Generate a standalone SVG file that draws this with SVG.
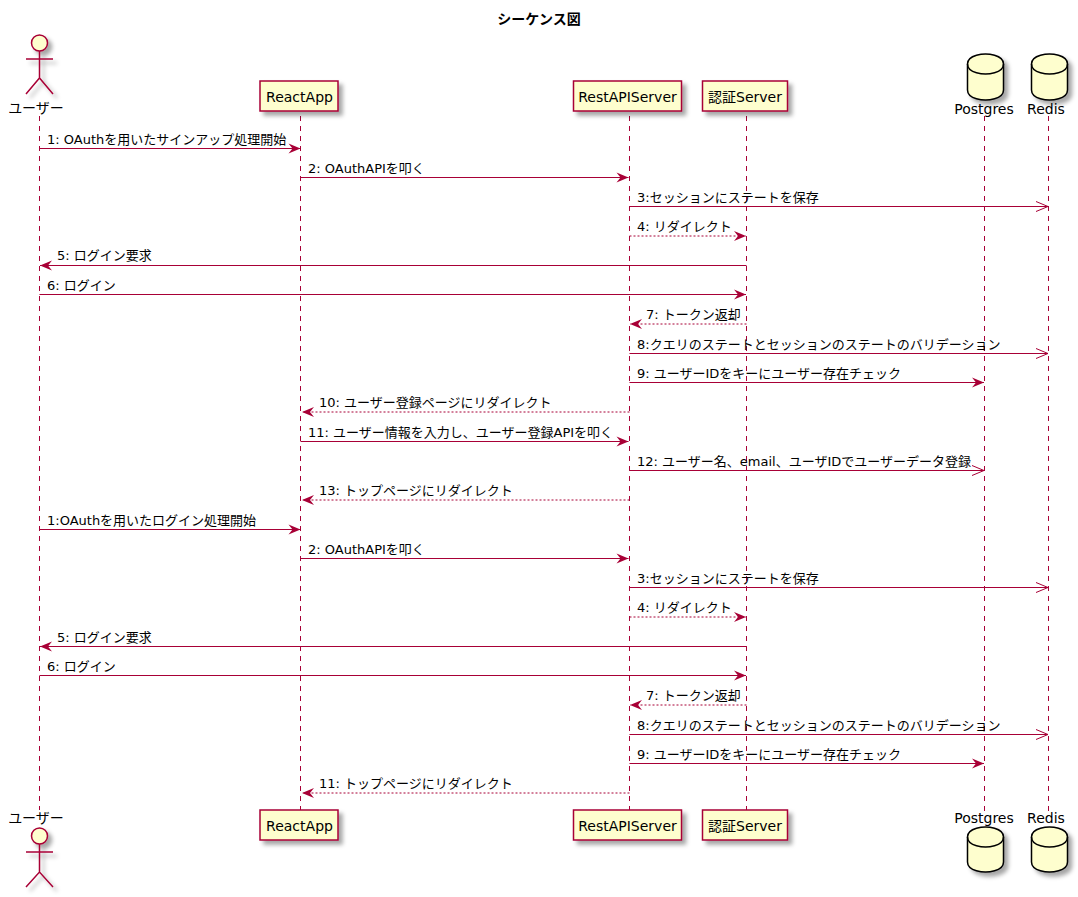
<svg xmlns="http://www.w3.org/2000/svg" width="1078" height="897" viewBox="0 0 1078 897">
<style>
text{font-family:"DejaVu Sans","Noto Sans CJK JP",sans-serif;fill:#000}
.t{font-size:14px;font-weight:700}
.n{font-size:14px}
.m{font-size:13px}
.mid{text-anchor:middle}
.life{stroke:#A80036;stroke-width:1;stroke-dasharray:5,5;fill:none}
.box{fill:#FEFECE;stroke:#A80036;stroke-width:1.5}
.act{fill:none;stroke:#A80036;stroke-width:1.5}
.head{fill:#FEFECE;stroke:#A80036;stroke-width:1.5}
.db{fill:#FEFECE;stroke:#000;stroke-width:1.5}
.dbl{fill:none;stroke:#000;stroke-width:1.5}
.a,.o,.d{stroke:#A80036;stroke-width:1;fill:none}
.a,.d{marker-end:url(#fa)}
.o{marker-end:url(#oa)}
.d{stroke-dasharray:2,2}
</style>
<defs>
<filter id="sh" x="-30%" y="-30%" width="170%" height="170%"><feDropShadow dx="4" dy="4" stdDeviation="2" flood-color="#000" flood-opacity="0.35"/></filter>
<marker id="fa" markerUnits="userSpaceOnUse" markerWidth="14" markerHeight="12" refX="12" refY="5" orient="auto" overflow="visible"><path d="M0,0L12,5L0,10L4,5Z" fill="#A80036"/></marker>
<marker id="oa" markerUnits="userSpaceOnUse" markerWidth="14" markerHeight="12" refX="12" refY="5" orient="auto" overflow="visible"><path d="M0,0L12,5L0,10" fill="none" stroke="#A80036"/></marker>
</defs>
<text id="title" class="t mid" x="539" y="24">シーケンス図</text>
<g id="user">
<line class="life" x1="39.5" y1="116" x2="39.5" y2="810"/>
<g filter="url(#sh)"><circle class="head" cx="39.5" cy="43" r="8"/><path class="act" d="M39.5,51V78M26,59H53M26,94L39.5,78L53,94"/></g>
<text class="n mid" x="36" y="113">ユーザー</text>
<text class="n mid" x="36" y="823">ユーザー</text>
<g filter="url(#sh)"><circle class="head" cx="39.5" cy="836" r="8"/><path class="act" d="M39.5,844V872M26,852H53M26,887L39.5,872L53,887"/></g>
</g>
<g id="reactapp">
<line class="life" x1="300.5" y1="116" x2="300.5" y2="810"/>
<rect class="box" filter="url(#sh)" x="260" y="81" width="78" height="30"/>
<text class="n mid" x="299.5" y="102">ReactApp</text>
<rect class="box" filter="url(#sh)" x="260" y="810" width="78" height="30"/>
<text class="n mid" x="299.5" y="831">ReactApp</text>
</g>
<g id="restapiserver">
<line class="life" x1="629.5" y1="116" x2="629.5" y2="810"/>
<rect class="box" filter="url(#sh)" x="573.5" y="81" width="108" height="30"/>
<text class="n mid" x="627.5" y="102">RestAPIServer</text>
<rect class="box" filter="url(#sh)" x="573.5" y="810" width="108" height="30"/>
<text class="n mid" x="627.5" y="831">RestAPIServer</text>
</g>
<g id="authserver">
<line class="life" x1="746.5" y1="116" x2="746.5" y2="810"/>
<rect class="box" filter="url(#sh)" x="702.5" y="81" width="85" height="30"/>
<text class="n mid" x="745" y="102">認証Server</text>
<rect class="box" filter="url(#sh)" x="702.5" y="810" width="85" height="30"/>
<text class="n mid" x="745" y="831">認証Server</text>
</g>
<g id="postgres">
<line class="life" x1="984.5" y1="116" x2="984.5" y2="812"/>
<g filter="url(#sh)"><path class="db" d="M967.5,64C967.5,54 985.5,54 985.5,54C985.5,54 1003.5,54 1003.5,64V90C1003.5,100 985.5,100 985.5,100C985.5,100 967.5,100 967.5,90Z"/><path class="dbl" d="M967.5,64C967.5,74 985.5,74 985.5,74C985.5,74 1003.5,74 1003.5,64"/></g>
<text class="n mid" x="984" y="114">Postgres</text>
<text class="n mid" x="984" y="823">Postgres</text>
<g filter="url(#sh)"><path class="db" d="M967.5,837C967.5,827 985.5,827 985.5,827C985.5,827 1003.5,827 1003.5,837V862C1003.5,872 985.5,872 985.5,872C985.5,872 967.5,872 967.5,862Z"/><path class="dbl" d="M967.5,837C967.5,847 985.5,847 985.5,847C985.5,847 1003.5,847 1003.5,837"/></g>
</g>
<g id="redis">
<line class="life" x1="1048.5" y1="116" x2="1048.5" y2="812"/>
<g filter="url(#sh)"><path class="db" d="M1031.5,64C1031.5,54 1049.5,54 1049.5,54C1049.5,54 1067.5,54 1067.5,64V90C1067.5,100 1049.5,100 1049.5,100C1049.5,100 1031.5,100 1031.5,90Z"/><path class="dbl" d="M1031.5,64C1031.5,74 1049.5,74 1049.5,74C1049.5,74 1067.5,74 1067.5,64"/></g>
<text class="n mid" x="1046" y="114">Redis</text>
<text class="n mid" x="1046" y="823">Redis</text>
<g filter="url(#sh)"><path class="db" d="M1031.5,837C1031.5,827 1049.5,827 1049.5,827C1049.5,827 1067.5,827 1067.5,837V862C1067.5,872 1049.5,872 1049.5,872C1049.5,872 1031.5,872 1031.5,862Z"/><path class="dbl" d="M1031.5,837C1031.5,847 1049.5,847 1049.5,847C1049.5,847 1067.5,847 1067.5,837"/></g>
</g>
<g id="connectors">
<line class="a" x1="39.5" y1="148.5" x2="300.5" y2="148.5"/><text class="m" x="47" y="144">1: OAuthを用いたサインアップ処理開始</text>
<line class="a" x1="300.5" y1="177.5" x2="628.5" y2="177.5"/><text class="m" x="308" y="173">2: OAuthAPIを叩く</text>
<line class="o" x1="629.5" y1="206.5" x2="1048" y2="206.5"/><text class="m" x="637" y="202">3:セッションにステートを保存</text>
<line class="d" x1="629.5" y1="236" x2="746" y2="236"/><text class="m" x="637" y="231">4: リダイレクト</text>
<line class="a" x1="746.5" y1="265.5" x2="40" y2="265.5"/><text class="m" x="57" y="260">5: ログイン要求</text>
<line class="a" x1="39.5" y1="294.5" x2="746" y2="294.5"/><text class="m" x="47" y="290">6: ログイン</text>
<line class="d" x1="746.5" y1="324" x2="630" y2="324"/><text class="m" x="646" y="319">7: トークン返却</text>
<line class="o" x1="629.5" y1="353.5" x2="1048" y2="353.5"/><text class="m" x="637" y="349">8:クエリのステートとセッションのステートのバリデーション</text>
<line class="a" x1="629.5" y1="382.5" x2="984" y2="382.5"/><text class="m" x="637" y="378">9: ユーザーIDをキーにユーザー存在チェック</text>
<line class="d" x1="629.5" y1="412" x2="302" y2="412"/><text class="m" x="319" y="407">10: ユーザー登録ページにリダイレクト</text>
<line class="a" x1="300.5" y1="441.5" x2="628.5" y2="441.5"/><text class="m" x="308" y="437">11: ユーザー情報を入力し、ユーザー登録APIを叩く</text>
<line class="o" x1="629.5" y1="470.5" x2="984" y2="470.5"/><text class="m" x="637" y="466">12: ユーザー名、email、ユーザIDでユーザーデータ登録</text>
<line class="d" x1="629.5" y1="500" x2="302" y2="500"/><text class="m" x="319" y="495">13: トップページにリダイレクト</text>
<line class="a" x1="39.5" y1="529.5" x2="300.5" y2="529.5"/><text class="m" x="47" y="525">1:OAuthを用いたログイン処理開始</text>
<line class="a" x1="300.5" y1="558.5" x2="628.5" y2="558.5"/><text class="m" x="308" y="554">2: OAuthAPIを叩く</text>
<line class="o" x1="629.5" y1="587.5" x2="1048" y2="587.5"/><text class="m" x="637" y="583">3:セッションにステートを保存</text>
<line class="d" x1="629.5" y1="617" x2="746" y2="617"/><text class="m" x="637" y="612">4: リダイレクト</text>
<line class="a" x1="746.5" y1="646.5" x2="40" y2="646.5"/><text class="m" x="57" y="642">5: ログイン要求</text>
<line class="a" x1="39.5" y1="675.5" x2="746" y2="675.5"/><text class="m" x="47" y="671">6: ログイン</text>
<line class="d" x1="746.5" y1="705" x2="630" y2="705"/><text class="m" x="646" y="700">7: トークン返却</text>
<line class="o" x1="629.5" y1="734.5" x2="1048" y2="734.5"/><text class="m" x="637" y="730">8:クエリのステートとセッションのステートのバリデーション</text>
<line class="a" x1="629.5" y1="763.5" x2="984" y2="763.5"/><text class="m" x="637" y="759">9: ユーザーIDをキーにユーザー存在チェック</text>
<line class="d" x1="629.5" y1="793" x2="302" y2="793"/><text class="m" x="319" y="788">11: トップページにリダイレクト</text>
</g>
</svg>
